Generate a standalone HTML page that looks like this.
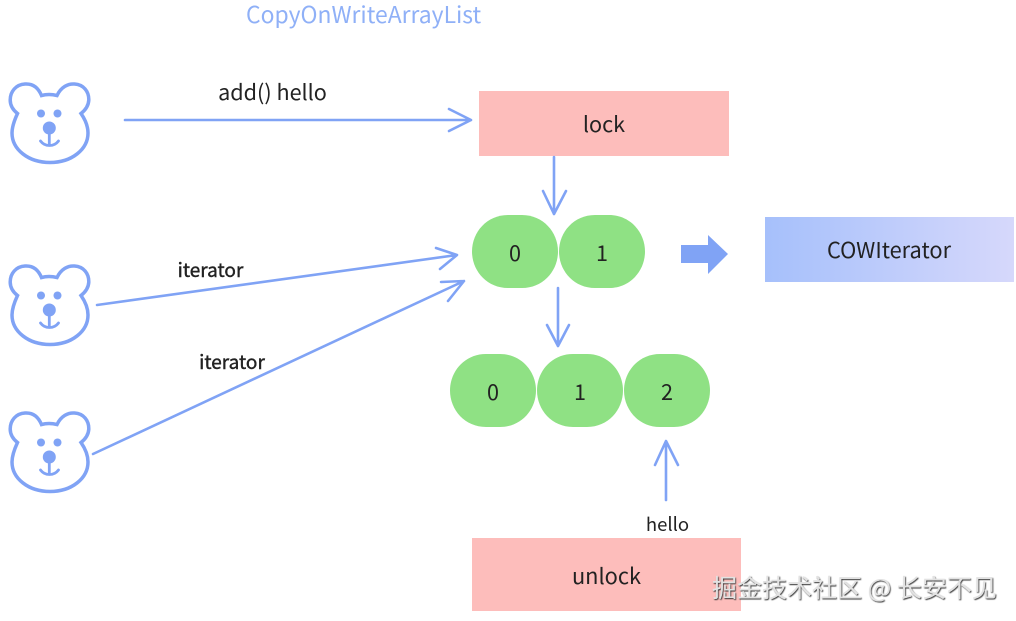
<!DOCTYPE html>
<html><head><meta charset="utf-8"><style>
html,body{margin:0;padding:0;background:#fff;width:1016px;height:621px;overflow:hidden}
svg{display:block}
text{font-family:"Noto Sans CJK SC","Liberation Sans",sans-serif;fill:#222}
</style></head><body>
<svg width="1016" height="621" viewBox="0 0 1016 621" xmlns="http://www.w3.org/2000/svg">
<defs>
<linearGradient id="g" x1="0" x2="1" y1="0" y2="0"><stop offset="0" stop-color="#a6c0fb"/><stop offset="1" stop-color="#d6d8fb"/></linearGradient>
<filter id="wm" x="-5%" y="-20%" width="110%" height="140%"><feDropShadow dx="0.800" dy="1" stdDeviation="0.400" flood-color="#333"/></filter>
<path id="pill" d="M36 0H50C71 0 86 17 86 36.500C86 56 71 73 50 73H36C15 73 0 56 0 36.500C0 17 15 0 36 0Z" fill="#8fe184"/>
<g id="bear">
<path d="M41.500 95.500C46 94.300 52 94.300 57 95.500C61 87 68 83.500 74.500 84C83.500 84.500 89 91.500 88.800 100C88.500 106 85.500 110 81 113.500C85.500 120 88 127 88 133C88 149.500 71.500 162.500 50 162.500C28.500 162.500 12 149.500 12 133C12 127 14.500 120 17.500 113.500C13 110 10.200 106 10.200 100C10.200 91.500 16 84.500 25 84C32 83.500 38 87 41.500 95.500Z" fill="#fff" stroke="#80a3f5" stroke-width="3.500"/>
<circle cx="41" cy="113.500" r="4" fill="#80a3f5"/>
<circle cx="57.500" cy="113.500" r="4" fill="#80a3f5"/>
<circle cx="49.300" cy="128" r="6.500" fill="#80a3f5"/>
<path d="M49.300 130V145.500M40.500 141C45 147 54 147 58.500 141" fill="none" stroke="#80a3f5" stroke-width="2.800" stroke-linecap="round"/>
</g>
</defs>
<rect width="1016" height="621" fill="#fff"/>
<text x="246" y="23" font-size="22.900" style="fill:#8fb0f7">CopyOnWriteArrayList</text>
<use href="#bear"/>
<use href="#bear" y="182"/>
<use href="#bear" y="329"/>
<rect x="479" y="91" width="250" height="65" fill="#fdbdbb"/>
<rect x="472" y="538" width="269" height="73" fill="#fdbdbb"/>
<rect x="765" y="217" width="249" height="65" fill="url(#g)"/>
<use href="#pill" x="472" y="215"/>
<use href="#pill" x="559" y="215"/>
<use href="#pill" x="450" y="354"/>
<use href="#pill" x="537" y="354"/>
<use href="#pill" x="624" y="354"/>
<g fill="none" stroke="#80a3f5" stroke-width="2.600" stroke-linecap="round" stroke-linejoin="round">
<path d="M125 120H471M449 109L471 120L449 131"/>
<path d="M554 157V214M543 191L554 214L566 191"/>
<path d="M97 305L457 255M436 248L457 255L440 269"/>
<path d="M93 454L464 281M441 282L464 281L448 301"/>
<path d="M558 288V346M547 325L558 346L569 325"/>
<path d="M666 500V441M655 465L666 441L678 465"/>
</g>
<path d="M681 245H708V235L728 254L708 274V263H681Z" fill="#80a3f5"/>
<g text-anchor="middle">
<text x="272.500" y="100" font-size="21.600">add() hello</text>
<text x="604" y="132" font-size="21.600">lock</text>
<text x="889" y="258" font-size="21.800">COWIterator</text>
<text x="210.500" y="277" font-size="19" stroke="#222" stroke-width=".4">iterator</text>
<text x="232" y="369" font-size="19" stroke="#222" stroke-width=".4">iterator</text>
<text x="515" y="261" font-size="21.600">0</text>
<text x="602" y="261" font-size="21.600">1</text>
<text x="493" y="400" font-size="21.600">0</text>
<text x="580" y="400" font-size="21.600">1</text>
<text x="667" y="400" font-size="21.600">2</text>
<text x="667.500" y="531" font-size="18.500">hello</text>
<text x="606.500" y="584" font-size="21.800">unlock</text>
</g>
<text x="712" y="597" font-size="25" style="fill:#e2e2e2" filter="url(#wm)">掘金技术社区 @ 长安不见</text>
</svg>
</body></html>
